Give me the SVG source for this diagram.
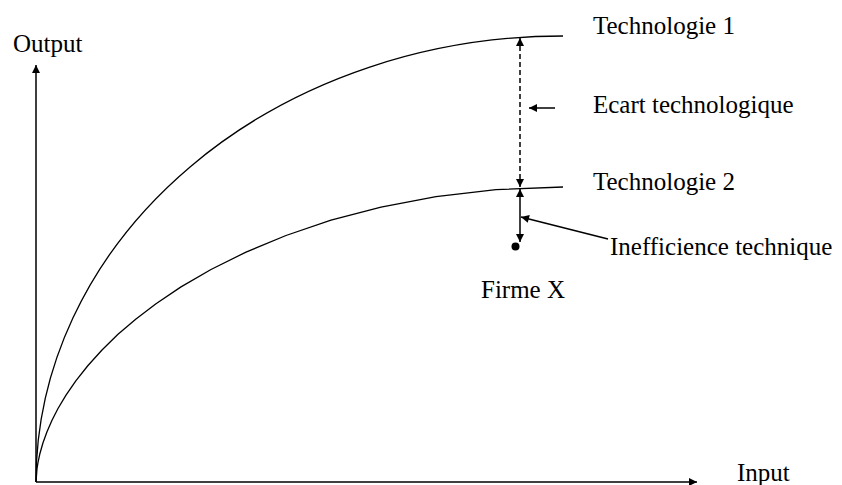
<svg xmlns="http://www.w3.org/2000/svg" width="842" height="485" viewBox="0 0 842 485">
<style>
.t{font-family:"Liberation Serif","Times New Roman",serif;font-size:25px;fill:#000}
.c{fill:none;stroke:#000;stroke-width:1.3;stroke-linejoin:round}
.l{fill:none;stroke:#000;stroke-width:1.5}
</style>
<defs>
<marker id="ah" viewBox="0 0 10 10" refX="10" refY="5" markerWidth="9" markerHeight="8" orient="auto-start-reverse" markerUnits="userSpaceOnUse">
<path d="M0,0 L10,5 L0,10 z" fill="#000"/>
</marker>
</defs>
<rect width="842" height="485" fill="#fff"/>
<g id="axes">
<line class="l" x1="36" y1="482" x2="36" y2="65" marker-end="url(#ah)"/>
<line class="l" x1="36" y1="482" x2="697" y2="482" marker-end="url(#ah)"/>
<text class="t" x="13" y="52">Output</text>
<text class="t" x="737" y="481">Input</text>
</g>
<g id="tech1">
<path class="c" d="M36,482 A527,446 0 0 1 563,36"/>
<text class="t" x="593" y="34">Technologie 1</text>
</g>
<g id="tech2">
<polyline class="c" points="36,482 37,468.6 38,462.4 40,453.2 43,442.8 47,431.7 52,420.2 58,408.5 66,395.1 76,380.6 88,365.5 102,350 118,334.2 136,319 156,303.7 181,286.9 211,269.5 246,252.1 286,235.5 331,220.2 381,207.1 436,196.6 496,189.7 563,187"/>
<text class="t" x="593" y="190">Technologie 2</text>
</g>
<g id="firme">
<circle cx="515.5" cy="246.5" r="4" fill="#000"/>
<text class="t" x="481" y="298">Firme X</text>
</g>
<g id="ecart-label">
<text class="t" x="593" y="113">Ecart technologique</text>
</g>
<g id="ineff-label">
<text class="t" x="610" y="255">Inefficience technique</text>
</g>
<g id="connectors">
<line class="l" x1="520" y1="38" x2="520" y2="187" stroke-dasharray="5,3" marker-start="url(#ah)" marker-end="url(#ah)"/>
<line class="l" x1="520" y1="189" x2="520" y2="242" marker-start="url(#ah)" marker-end="url(#ah)"/>
<line class="l" x1="555" y1="108" x2="529" y2="108" marker-end="url(#ah)"/>
<line class="l" x1="608" y1="239" x2="521" y2="217" marker-end="url(#ah)"/>
</g>
</svg>
